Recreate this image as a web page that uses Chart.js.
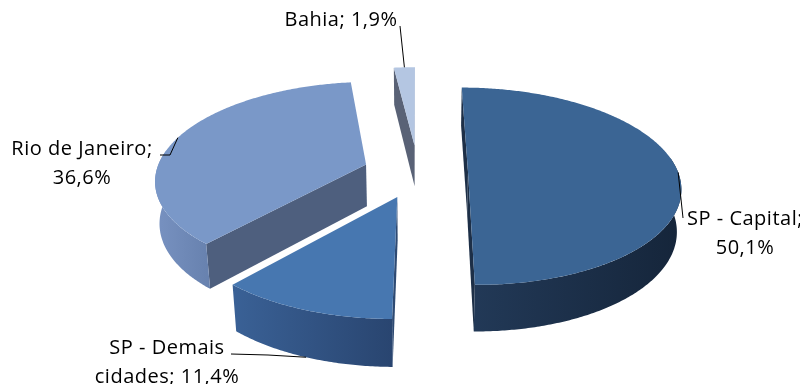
<!DOCTYPE html>
<html>
<head>
<meta charset="utf-8">
<script src="https://cdn.jsdelivr.net/npm/chart.js@4.4.1/dist/chart.umd.min.js"></script>
<style>
  html, body { margin: 0; padding: 0; background: #fff; }
  #wrap { width: 800px; height: 384px; }
</style>
</head>
<body>
<div id="wrap"><canvas id="shareChart"></canvas></div>
<script>
const categories = ['SP - Capital', 'SP - Demais cidades', 'Rio de Janeiro', 'Bahia'];
const shares = [50.1, 11.4, 36.6, 1.9];
// how many words of each label go on its first line
const firstLineWords = [3, 3, 3, 99];

const topColors = ['#3b6594', '#4777b0', '#7a98c8', '#b4c6e2'];
const wallColors = [['#223957', '#15253a'], ['#3a6196', '#294570'], ['#7892c1', '#6781ae'], ['#8fa3c4', '#7a8fb0']];
const cutColors = ['#1d2f47', '#2e4a72', '#4e5f7e', '#596276'];
const explode = [50, 56, 55, 60];

// label anchor (centre x, first baseline) and leader points before the slice end
const labelLayout = [
  { x: 745, y: 225, leader: [[683, 218]], base: false },
  { x: 167, y: 354, leader: [[231, 354], [268, 355]], base: true },
  { x: 82, y: 155, leader: [[160, 155], [170, 155]], base: false },
  { x: 341, y: 26, leader: [[400, 26]], base: false }
];

// simple camera for the tilted pie
const PERSP = 1300;
const SIN_T = 0.46;
const COS_T = Math.sqrt(1 - SIN_T * SIN_T);
const DEPTH = 48;

function fmtPct(v) {
  return v.toFixed(1).replace('.', ',') + '%';
}

function sliceGeom(chart) {
  const meta = chart.getDatasetMeta(0);
  return meta.data.map((arc, i) => {
    const mid = (arc.startAngle + arc.endAngle) / 2;
    const off = arc.options.offset || 0;
    return {
      i, cx: arc.x, cy: arc.y, r: arc.outerRadius,
      a0: arc.startAngle, a1: arc.endAngle, mid,
      ox: Math.cos(mid) * off, oy: Math.sin(mid) * off
    };
  });
}

function project(s, ang, rr, z) {
  const X = s.ox + rr * Math.cos(ang);
  const Y = s.oy + rr * Math.sin(ang);
  const k = PERSP / (PERSP - Y * COS_T - z * SIN_T);
  return [s.cx + X * k, s.cy + (Y * SIN_T - z * COS_T) * k];
}

function arcPoints(s, from, to, z) {
  const n = Math.max(2, Math.ceil(Math.abs(to - from) / 0.01));
  const pts = [];
  for (let j = 0; j <= n; j++) {
    pts.push(project(s, from + (to - from) * j / n, s.r, z));
  }
  return pts;
}

function fillPoly(ctx, pts, style) {
  ctx.beginPath();
  pts.forEach((p, j) => j ? ctx.lineTo(p[0], p[1]) : ctx.moveTo(p[0], p[1]));
  ctx.closePath();
  ctx.fillStyle = style;
  ctx.fill();
}

function signedArea(pts) {
  let a = 0;
  for (let j = 0; j < pts.length; j++) {
    const p = pts[j], q = pts[(j + 1) % pts.length];
    a += p[0] * q[1] - q[0] * p[1];
  }
  return a;
}

function hGradient(ctx, pts, c0, c1) {
  const xs = pts.map(p => p[0]);
  const g = ctx.createLinearGradient(Math.min(...xs), 0, Math.max(...xs), 0);
  g.addColorStop(0, c0);
  g.addColorStop(1, c1);
  return g;
}

const pie3d = {
  id: 'pie3d',
  beforeDatasetsDraw(chart) {
    const ctx = chart.ctx;
    const slices = sliceGeom(chart);
    ctx.save();

    // side walls, back slices first
    [...slices].sort((a, b) => a.oy - b.oy).forEach(s => {
      const vt = project(s, 0, 0, 0);
      const vb = project(s, 0, 0, -DEPTH);
      const face0 = [vt, project(s, s.a0, s.r, 0), project(s, s.a0, s.r, -DEPTH), vb];
      const face1 = [vt, project(s, s.a1, s.r, 0), project(s, s.a1, s.r, -DEPTH), vb];
      if (signedArea(face0) < 0) fillPoly(ctx, face0, cutColors[s.i]);
      if (signedArea(face1) > 0) fillPoly(ctx, face1, cutColors[s.i]);

      const w0 = Math.max(s.a0, -0.15);
      const w1 = Math.min(s.a1, Math.PI + 0.15);
      if (w1 > w0) {
        const wall = arcPoints(s, w0, w1, 0).concat(arcPoints(s, w1, w0, -DEPTH));
        fillPoly(ctx, wall, hGradient(ctx, wall, wallColors[s.i][0], wallColors[s.i][1]));
      }
    });

    // top faces
    slices.forEach(s => {
      const top = [project(s, 0, 0, 0)].concat(arcPoints(s, s.a0, s.a1, 0));
      fillPoly(ctx, top, topColors[s.i]);
    });
    ctx.restore();
  },
  beforeDatasetDraw() {
    return false;
  },
  afterDatasetsDraw(chart) {
    const ctx = chart.ctx;
    const slices = sliceGeom(chart);
    ctx.save();
    ctx.font = '20px "Open Sans", "Liberation Sans", sans-serif';
    ctx.letterSpacing = '0.5px';
    ctx.fillStyle = '#000';
    ctx.strokeStyle = '#000';
    ctx.lineWidth = 1;
    ctx.textAlign = 'center';
    ctx.textBaseline = 'alphabetic';
    slices.forEach(s => {
      const lay = labelLayout[s.i];
      const words = (categories[s.i] + '; ' + fmtPct(shares[s.i])).split(' ');
      const n = firstLineWords[s.i];
      const lines = [words.slice(0, n).join(' ')];
      if (words.length > n) lines.push(words.slice(n).join(' '));
      lines.forEach((t, j) => ctx.fillText(t, lay.x, lay.y + j * 29));

      const end = project(s, s.mid, s.r, lay.base ? -DEPTH : 0);
      const pts = lay.leader.concat([end]);
      ctx.beginPath();
      pts.forEach((p, j) => j ? ctx.lineTo(p[0], p[1]) : ctx.moveTo(p[0], p[1]));
      ctx.stroke();
    });
    ctx.restore();
  }
};

new Chart(document.getElementById('shareChart'), {
  type: 'pie',
  data: {
    labels: categories,
    datasets: [{
      data: shares,
      backgroundColor: topColors,
      borderWidth: 0,
      offset: explode,
      clip: false
    }]
  },
  options: {
    responsive: true,
    maintainAspectRatio: false,
    animation: false,
    events: [],
    radius: 210,
    layout: { padding: { left: 36, right: 0, top: 0, bottom: 40 } },
    plugins: {
      legend: { display: false },
      tooltip: { enabled: false }
    }
  },
  plugins: [pie3d]
});
</script>
</body>
</html>
